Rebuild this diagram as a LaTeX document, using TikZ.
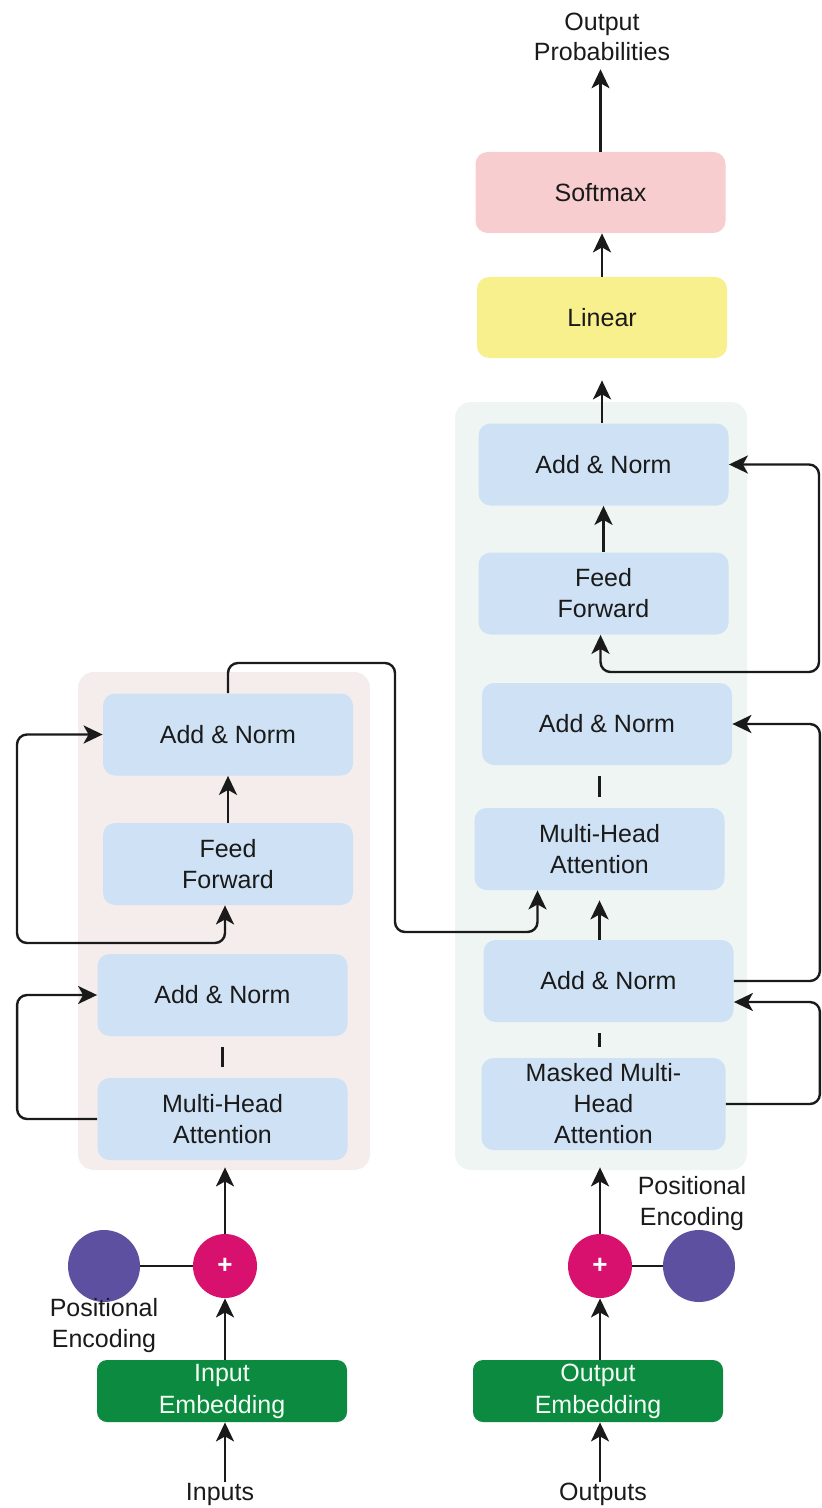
\documentclass[tikz,border=0pt]{standalone}
\usepackage{fontspec}
\setmainfont{Liberation Sans}
\usepackage{tikz}
\usetikzlibrary{arrows.meta, positioning, calc}
\usepackage{xcolor}

\definecolor{layerblue}{HTML}{CFE2F5}
\definecolor{encbg}{HTML}{F4EDEB}
\definecolor{decbg}{HTML}{EEF5F2}
\definecolor{softpink}{HTML}{F8CDD0}
\definecolor{linyellow}{HTML}{F8F08C}
\definecolor{embgreen}{HTML}{0B8A40}
\definecolor{plusred}{HTML}{D9116E}
\definecolor{pepurple}{HTML}{5E50A0}
\definecolor{ink}{HTML}{1A1A1A}

\tikzset{
    txt/.style={font=\fontsize{12.5}{15.5}\selectfont, text=ink, align=center},
    layer/.style={txt, rounded corners=6pt, fill=layerblue, minimum width=125pt, minimum height=41pt, inner sep=1pt},
    block/.style={rounded corners=8pt, minimum width=146pt, inner sep=0pt},
    embed/.style={txt, text=green!4, rounded corners=5pt, fill=embgreen, minimum width=125pt, minimum height=31pt, inner sep=0pt, font=\fontsize{12.5}{16}\selectfont},
    plus/.style={circle, fill=plusred, minimum size=32pt, inner sep=0pt, text=white, font=\fontsize{13}{13}\selectfont\bfseries},
    posenc/.style={circle, fill=pepurple, minimum size=36pt, inner sep=0pt},
    tip/.tip={Stealth[length=9.5pt, width=9pt, inset=2.5pt]},
    arr/.style={-tip, line width=1.2pt, draw=ink, rounded corners=5pt},
    dual/.style={tip-tip, line width=1.2pt, draw=ink, rounded corners=5pt},
    link/.style={line width=1.2pt, draw=ink, shorten <=5.5pt, shorten >=5.5pt}
}

\begin{document}
\begin{tikzpicture}[x=0.5pt, y=-0.5pt]
    \useasboundingbox (0,0) rectangle (822,1508);

    % Stack backgrounds
    \node[block, fill=encbg, minimum height=249pt] (encoder) at (224,921) {};
    \node[block, fill=decbg, minimum height=384pt] (decoder) at (601,786) {};

    % Encoder
    \node[layer] (encAN1) at (228,734.5) {Add \& Norm};
    \node[layer] (encFF) at (228,864) {Feed\\Forward};
    \node[layer] (encAN2) at (222.5,995) {Add \& Norm};
    \node[layer] (encMHA) at (222.5,1119) {Multi-Head\\Attention};

    % Decoder
    \node[layer] (decAN3) at (603.5,464.5) {Add \& Norm};
    \node[layer] (decFF) at (603.5,593.5) {Feed\\Forward};
    \node[layer] (decAN4) at (607,724) {Add \& Norm};
    \node[layer] (decMHA) at (599.5,849) {Multi-Head\\Attention};
    \node[layer] (decAN5) at (608.5,981) {Add \& Norm};
    \node[layer, minimum height=46pt, minimum width=122pt] (decMMHA) at (603.5,1104) {Masked Multi-\\Head\\Attention};

    % Output head
    \node[layer, fill=linyellow, minimum height=40.5pt] (linear) at (602,317.5) {Linear};
    \node[layer, fill=softpink, minimum height=40.5pt] (softmax) at (600.5,192.5) {Softmax};
    \node[txt, inner sep=0pt, font=\fontsize{12.5}{15}\selectfont] (outprob) at (602,37) {Output\\Probabilities};

    % Inputs side
    \node[embed] (encemb) at (222,1391) {Input\\Embedding};
    \node[plus] (encplus) at (225,1266) {+};
    \node[posenc] (encpe) at (104,1266) {};
    \node[txt, inner sep=0pt] (encpelabel) at (104,1326) {Positional\\Encoding};
    \node[txt, inner sep=0pt] (inputs) at (220,1494) {Inputs};

    % Outputs side
    \node[embed] (decemb) at (598,1391) {Output\\Embedding};
    \node[plus] (decplus) at (600,1266) {+};
    \node[posenc] (decpe) at (699,1266) {};
    \node[txt, inner sep=0pt] (decpelabel) at (692,1204) {Positional\\Encoding};
    \node[txt, inner sep=0pt] (outputs) at (603,1494) {Outputs};

    \coordinate (encskip) at (17,943);
    \coordinate (decskip) at (819,672);
    \coordinate (crossA) at (395,663);
    \coordinate (crossB) at (395,932);

    % Encoder flow
    \draw[arr] (encplus.south |- inputs.north) -- (encplus.south |- encemb.south);
    \draw[arr] (encplus.south |- encemb.north) -- (encplus.south);
    \draw[ink, line width=1.2pt] (encpe) -- (encplus);
    \draw[arr, shorten >=-1.5pt] (encplus.north) -- (encplus |- encoder.south);
    \draw[link] (encMHA.north) -- (encAN2.south);
    \draw[arr] (encMHA.west) -- ++(-80,0) |- (encAN2.west);
    \draw[dual] (encAN1.west) -| (encskip) -| ([xshift=-1.5pt]encFF.south);
    \draw[arr] (encFF.north) -- (encAN1.south);
    \draw[arr] (encAN1.north) |- (crossA) -- (crossB) -| ([xshift=-31pt]decMHA.south);

    % Decoder flow
    \draw[arr] (decplus.south |- outputs.north) -- (decplus.south |- decemb.south);
    \draw[arr] (decplus.south |- decemb.north) -- (decplus.south);
    \draw[ink, line width=1.2pt] (decplus) -- (decpe);
    \draw[arr, shorten >=-1.5pt] (decplus.north) -- (decplus |- decoder.south);
    \draw[link] (decMMHA.north -| decMHA.north) -- (decMHA.north |- decAN5.south);
    \draw[arr] (decMMHA.east) -- ++(94,0) |- ([yshift=-10.5pt]decAN5.east);
    \draw[arr, shorten >=5pt] (decMHA.south |- decAN5.north) -- (decMHA.south);
    \draw[arr] (decAN5.east) -- ++(86,0) |- (decAN4.east);
    \draw[link] (decMHA.north |- decAN4.south) -- (decMHA.north);
    \draw[dual] (decAN3.east) -| (decskip) -| ([xshift=-1.5pt]decFF.south);
    \draw[arr] (decFF.north) -- (decAN3.south);
    \draw[arr, shorten >=11pt] (linear.south |- decAN3.north) -- (linear.south);
    \draw[arr] (linear.north) -- (linear.north |- softmax.south);
    \draw[arr, shorten >=4pt] (softmax.north) -- (softmax.north |- outprob.south);
\end{tikzpicture}
\end{document}
